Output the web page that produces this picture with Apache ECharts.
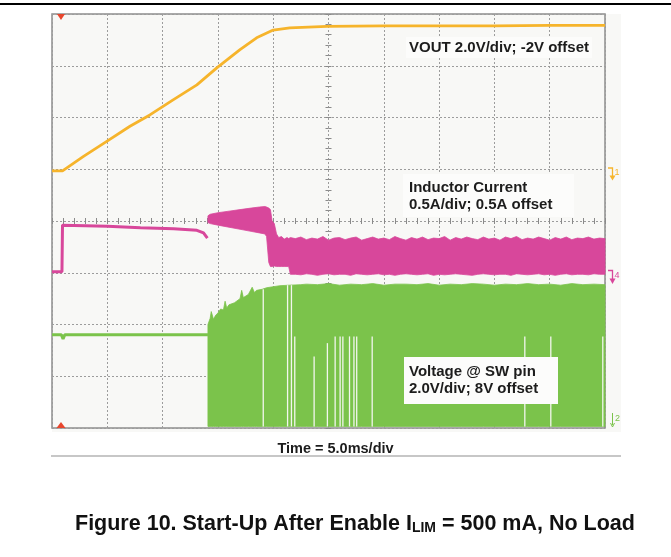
<!DOCTYPE html>
<html><head><meta charset="utf-8">
<script src="https://cdn.jsdelivr.net/npm/echarts@6/dist/echarts.min.js"></script>
<style>html,body{margin:0;padding:0;background:#fff}#c{width:671px;height:557px}</style>
</head><body><div id="c"></div>
<script>
// Time axis in divisions (5.0 ms/div), vertical in divisions (0 = bottom, 8 = top)
const xTicks = [0,1,2,3,4,5,6,7,8,9,10];

// VOUT (2.0 V/div, -2 V offset)
const voutX = [0, 0.19, 0.57, 0.99, 1.41, 1.77, 2.19, 2.62, 2.98, 3.40, 3.70, 4.00, 4.30, 4.97, 6.0, 7.0, 8.0, 9.0, 10.0];
const voutY = [4.97, 4.97, 5.25, 5.54, 5.83, 6.05, 6.34, 6.63, 6.96, 7.31, 7.54, 7.69, 7.73, 7.76, 7.77, 7.77, 7.77, 7.78, 7.78];

// Inductor current before switching starts
const ilPreX = [0, 0.18, 0.19, 0.6, 1.0, 1.6, 2.2, 2.62, 2.74, 2.81];
const ilPreY = [3.02, 3.02, 3.92, 3.91, 3.90, 3.87, 3.85, 3.82, 3.77, 3.67];

// Inductor current switching envelope
const ilBandX = [2.82, 2.86, 3.0, 3.2, 3.4, 3.6, 3.75, 3.85, 3.88, 3.92, 3.95, 3.98, 4.02, 4.06, 4.1, 4.15, 4.2, 4.25, 4.28, 4.31,
  4.4, 4.5, 4.6, 4.7, 4.8, 4.9, 5.0, 5.1, 5.2, 5.3, 5.4, 5.5, 5.6, 5.7, 5.8, 5.9, 6.0, 6.1, 6.2, 6.3, 6.4, 6.5, 6.6, 6.7, 6.8, 6.9,
  7.0, 7.1, 7.2, 7.3, 7.4, 7.5, 7.6, 7.7, 7.8, 7.9, 8.0, 8.1, 8.2, 8.3, 8.4, 8.5, 8.6, 8.7, 8.8, 8.9, 9.0, 9.1, 9.2, 9.3, 9.4, 9.5,
  9.6, 9.7, 9.8, 9.9, 10.0];
const ilBandTop = [4.10, 4.13, 4.16, 4.19, 4.22, 4.25, 4.27, 4.28, 4.27, 4.25, 4.22, 4.00, 3.95, 3.75, 3.68, 3.70, 3.65, 3.68, 3.66, 3.68,
  3.66, 3.69, 3.64, 3.67, 3.65, 3.70, 3.63, 3.67, 3.68, 3.64, 3.67, 3.69, 3.63, 3.66, 3.69, 3.65, 3.67, 3.64, 3.70, 3.66, 3.63, 3.68,
  3.65, 3.69, 3.64, 3.67, 3.66, 3.70, 3.63, 3.68, 3.65, 3.69, 3.66, 3.64, 3.69, 3.65, 3.67, 3.63, 3.69, 3.66, 3.70, 3.64, 3.67, 3.65,
  3.69, 3.66, 3.63, 3.68, 3.65, 3.69, 3.64, 3.67, 3.66, 3.69, 3.65, 3.67, 3.66];
const ilBandBot = [3.97, 3.95, 3.92, 3.88, 3.84, 3.80, 3.77, 3.75, 3.70, 3.20, 3.12, 3.12, 3.13, 3.12, 3.12, 3.12, 3.12, 3.12, 3.12, 2.97,
  2.97, 2.96, 2.98, 2.97, 2.95, 2.97, 2.98, 2.96, 2.97, 2.97, 2.95, 2.98, 2.97, 2.96, 2.97, 2.98, 2.96, 2.97, 2.95, 2.97, 2.98, 2.97,
  2.96, 2.97, 2.98, 2.95, 2.97, 2.96, 2.97, 2.98, 2.97, 2.96, 2.95, 2.97, 2.98, 2.97, 2.96, 2.97, 2.97, 2.95, 2.98, 2.97, 2.96, 2.97,
  2.98, 2.96, 2.97, 2.95, 2.97, 2.98, 2.96, 2.97, 2.97, 2.96, 2.98, 2.97, 2.97];

// SW pin voltage before switching
const swPreX = [0, 0.17, 0.20, 0.23, 2.82];
const swPreY = [1.80, 1.80, 1.72, 1.80, 1.80];

// SW pin switching envelope (top edge; bottom edge near the bottom of screen)
const swBandX = [2.82, 2.86, 2.88, 2.92, 2.96, 3.0, 3.05, 3.1, 3.13, 3.16, 3.2, 3.3, 3.4, 3.43, 3.46, 3.55, 3.62, 3.66, 3.7, 3.8,
  3.88, 4.0, 4.12, 4.3, 4.5, 4.6, 4.8, 5.0, 5.2, 5.4, 5.6, 5.8, 6.0, 6.2, 6.4, 6.6, 6.8, 7.0, 7.2, 7.4, 7.6, 7.8, 8.0, 8.2, 8.4,
  8.6, 8.8, 9.0, 9.2, 9.4, 9.6, 9.8, 10.0];
const swBandTop = [2.00, 2.12, 2.25, 2.10, 2.18, 2.22, 2.30, 2.28, 2.45, 2.32, 2.38, 2.42, 2.50, 2.66, 2.52, 2.58, 2.72, 2.62, 2.66, 2.68,
  2.71, 2.73, 2.75, 2.76, 2.77, 2.78, 2.77, 2.79, 2.76, 2.78, 2.77, 2.79, 2.76, 2.78, 2.78, 2.77, 2.79, 2.76, 2.78, 2.77, 2.79, 2.78,
  2.76, 2.78, 2.77, 2.79, 2.77, 2.78, 2.76, 2.79, 2.77, 2.78, 2.77];
const swBandBot = 0.03;

// White gaps in the SW band
const swGapX = [3.82, 4.26, 4.33, 4.39, 4.74, 4.98, 5.12, 5.21, 5.26, 5.38, 5.46, 5.51, 5.79, 8.55, 9.02, 9.96];
const swGapTop = [2.68, 2.76, 2.76, 1.77, 1.38, 1.64, 1.77, 1.77, 1.77, 1.77, 1.77, 1.77, 1.77, 1.77, 1.77, 1.77];

const labels = {
  vout: 'VOUT 2.0V/div; -2V offset',
  il1: 'Inductor Current', il2: '0.5A/div; 0.5A offset',
  sw1: 'Voltage @ SW pin', sw2: '2.0V/div; 8V offset',
  time: 'Time = 5.0ms/div'
};

const C_OR = '#f6b42b', C_MG = '#d8479b', C_GR = '#7bc34b', C_RED = '#e8462d';
const FONT = '"Liberation Sans", Arial, sans-serif';

const zip = (a, b) => a.map((v, i) => [v, b[i]]);

// band drawn as one polygon: top edge left->right, bottom edge right->left
function bandSeries(xs, tops, bots, color, z) {
  return {
    type: 'custom', z: z,
    data: xs.map((x, i) => [x, tops[i], Array.isArray(bots) ? bots[i] : bots]),
    encode: {x: 0, y: [1, 2]},
    renderItem: function (params, api) {
      if (params.dataIndex !== 0) return null;
      const pts = [];
      for (let i = 0; i < xs.length; i++) pts.push(api.coord([xs[i], tops[i]]));
      for (let i = xs.length - 1; i >= 0; i--) pts.push(api.coord([xs[i], Array.isArray(bots) ? bots[i] : bots]));
      return {type: 'polygon', shape: {points: pts}, style: {fill: color, stroke: color, lineWidth: 0.8}};
    }
  };
}

const chart = echarts.init(document.getElementById('c'));

const tickAxisX = (pos) => ({
  type: 'value', min: -5, max: 5, interval: 0.2, position: pos,
  axisLine: {show: false, onZero: true, onZeroAxisIndex: 1},
  axisTick: {show: true, length: 3, lineStyle: {color: '#8a8a8a', width: 1}},
  axisLabel: {show: false}, splitLine: {show: false}
});
const tickAxisY = (pos) => ({
  type: 'value', min: -4, max: 4, interval: 0.2, position: pos,
  axisLine: {show: false, onZero: true, onZeroAxisIndex: 1},
  axisTick: {show: true, length: 3, lineStyle: {color: '#8a8a8a', width: 1}},
  axisLabel: {show: false}, splitLine: {show: false}
});

function txt(x, y, text, size, extra) {
  return {type: 'text', x: x, y: y, z: 100,
    style: Object.assign({text: text, font: 'bold ' + size + 'px ' + FONT, fill: '#1c1c1c', align: 'left', verticalAlign: 'middle'}, extra || {})};
}

chart.setOption({
  animation: false,
  backgroundColor: '#ffffff',
  grid: {left: 52, top: 14, width: 553, height: 414, show: true, backgroundColor: '#f8f8f6', borderColor: '#8d8d8d', borderWidth: 1.5},
  xAxis: [
    {type: 'value', min: 0, max: 10, interval: 1,
     axisLine: {show: false, onZero: false}, axisTick: {show: false}, axisLabel: {show: false},
     splitLine: {show: true, lineStyle: {color: '#9c9c9c', type: [2, 2], width: 1}}},
    tickAxisX('bottom'), tickAxisX('top')
  ],
  yAxis: [
    {type: 'value', min: 0, max: 8, interval: 1,
     axisLine: {show: false, onZero: false}, axisTick: {show: false}, axisLabel: {show: false},
     splitLine: {show: true, lineStyle: {color: '#9c9c9c', type: [2, 2], width: 1}}},
    tickAxisY('left'), tickAxisY('right')
  ],
  series: [
    {type: 'line', data: zip(swPreX, swPreY), showSymbol: false, lineStyle: {color: C_GR, width: 3}, z: 3},
    bandSeries(swBandX, swBandTop, swBandBot, C_GR, 3),
    {type: 'custom', data: zip(swGapX, swGapTop), encode: {x: 0, y: 1}, z: 4,
     renderItem: function (params, api) {
       const p1 = api.coord([api.value(0), api.value(1)]);
       const p2 = api.coord([api.value(0), swBandBot]);
       return {type: 'line', shape: {x1: p1[0], y1: p1[1], x2: p2[0], y2: p2[1]},
               style: {stroke: '#f2f6ee', lineWidth: 1.3}};
     }},
    {type: 'line', data: zip(ilPreX, ilPreY), showSymbol: false, lineStyle: {color: C_MG, width: 3}, z: 5},
    bandSeries(ilBandX, ilBandTop, ilBandBot, C_MG, 5),
    {type: 'line', data: zip(voutX, voutY), showSymbol: false, lineStyle: {color: C_OR, width: 2.8}, z: 6}
  ],
  graphic: [
    {type: 'rect', z: -100, shape: {x: 52, y: 14, width: 569, height: 418}, style: {fill: '#f8f8f6'}},
    {type: 'line', z: 100, shape: {x1: 0, y1: 4, x2: 671, y2: 4}, style: {stroke: '#000', lineWidth: 2}},
    {type: 'line', z: 100, shape: {x1: 51, y1: 456, x2: 621, y2: 456}, style: {stroke: '#b4b4b4', lineWidth: 1.5}},
    // trigger markers
    {type: 'polygon', z: 100, shape: {points: [[57, 14], [65, 14], [61, 20]]}, style: {fill: C_RED}},
    {type: 'polygon', z: 100, shape: {points: [[56.5, 428], [65.5, 428], [61, 422]]}, style: {fill: C_RED}},
    // channel markers
    {type: 'polyline', z: 100, shape: {points: [[608, 168], [612.5, 168], [612.5, 176]]}, style: {stroke: C_OR, lineWidth: 1.3, fill: null}},
    {type: 'polygon', z: 100, shape: {points: [[609.5, 175.5], [615.5, 175.5], [612.5, 180.5]]}, style: {fill: C_OR}},
    txt(614.5, 173, '1', 9, {font: '9px ' + FONT, fill: C_OR}),
    {type: 'polyline', z: 100, shape: {points: [[608, 270.5], [612.5, 270.5], [612.5, 279]]}, style: {stroke: C_MG, lineWidth: 1.3, fill: null}},
    {type: 'polygon', z: 100, shape: {points: [[609.5, 278.5], [615.5, 278.5], [612.5, 284]]}, style: {fill: C_MG}},
    txt(614.5, 276, '4', 9, {font: '9px ' + FONT, fill: C_MG}),
    {type: 'line', z: 100, shape: {x1: 612.5, y1: 413, x2: 612.5, y2: 425}, style: {stroke: C_GR, lineWidth: 1}},
    {type: 'polyline', z: 100, shape: {points: [[610.5, 423], [612.5, 427], [614.5, 423]]}, style: {stroke: C_GR, lineWidth: 1, fill: null}},
    txt(615, 419, '2', 9, {font: '9px ' + FONT, fill: C_GR}),
    // annotation boxes
    {type: 'rect', z: 90, shape: {x: 406, y: 37, width: 186, height: 21}, style: {fill: '#fcfcfb'}},
    txt(409, 48, labels.vout, 15),
    {type: 'rect', z: 90, shape: {x: 403, y: 174, width: 171, height: 43}, style: {fill: '#fcfcfb'}},
    txt(409, 187.5, labels.il1, 15),
    txt(409, 204.5, labels.il2, 15),
    {type: 'rect', z: 90, shape: {x: 404, y: 357, width: 154, height: 47}, style: {fill: '#fcfcfb'}},
    txt(409, 371.5, labels.sw1, 15),
    txt(409, 388.5, labels.sw2, 15),
    txt(335.5, 449, labels.time, 14.5, {align: 'center'}),
    {type: 'text', z: 100, x: 75, y: 509,
     style: {text: '{a|Figure 10. Start-Up After Enable I}{s|LIM}{a| = 500 mA, No Load}',
       rich: {
         a: {font: 'bold 21.5px ' + FONT, fill: '#111', lineHeight: 26, verticalAlign: 'bottom'},
         s: {font: 'bold 14px ' + FONT, fill: '#111', lineHeight: 14, padding: [12, 0, 0, 0], verticalAlign: 'bottom'}
       }}}
  ]
});
</script>
</body></html>
